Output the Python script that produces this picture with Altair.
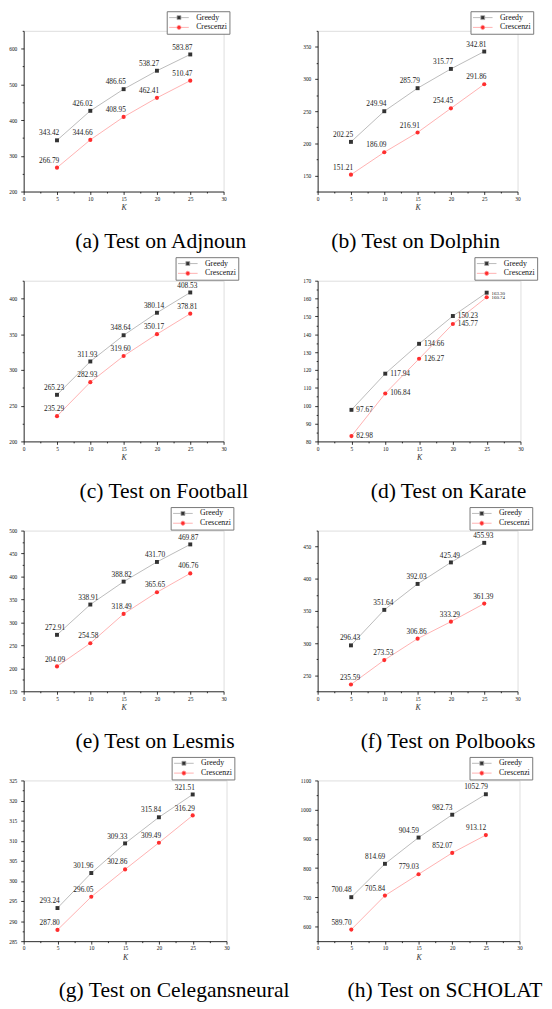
import altair as alt
import pandas as pd

FONT = "Liberation Serif"

K = [5, 10, 15, 20, 25]
series_names = ["Greedy", "Crescenzi"]
captions = ["(a) Test on Adjnoun", "(b) Test on Dolphin", "(c) Test on Football",
            "(d) Test on Karate", "(e) Test on Lesmis", "(f) Test on Polbooks",
            "(g) Test on Celegansneural", "(h) Test on SCHOLAT"]

greedy_adjnoun = [343.42, 426.02, 486.65, 538.27, 583.87]
cres_adjnoun = [266.79, 344.66, 408.95, 462.41, 510.47]
greedy_dolphin = [202.25, 249.94, 285.79, 315.77, 342.81]
cres_dolphin = [151.21, 186.09, 216.91, 254.45, 291.86]
greedy_football = [265.23, 311.93, 348.64, 380.14, 408.53]
cres_football = [235.29, 282.93, 319.60, 350.17, 378.81]
greedy_karate = [97.67, 117.94, 134.66, 150.23, 163.30]
cres_karate = [82.98, 106.84, 126.27, 145.77, 160.74]
greedy_lesmis = [272.91, 338.91, 388.82, 431.70, 469.87]
cres_lesmis = [204.09, 254.58, 318.49, 365.65, 406.76]
greedy_polbooks = [296.43, 351.64, 392.03, 425.49, 455.93]
cres_polbooks = [235.59, 273.53, 306.86, 333.29, 361.39]
greedy_celegans = [293.24, 301.96, 309.33, 315.84, 321.51]
cres_celegans = [287.80, 296.05, 302.86, 309.49, 316.29]
greedy_scholat = [700.48, 814.69, 904.59, 982.73, 1052.79]
cres_scholat = [589.70, 705.84, 779.03, 852.07, 913.12]

greedy_all = [greedy_adjnoun, greedy_dolphin, greedy_football, greedy_karate,
              greedy_lesmis, greedy_polbooks, greedy_celegans, greedy_scholat]
cres_all = [cres_adjnoun, cres_dolphin, cres_football, cres_karate,
            cres_lesmis, cres_polbooks, cres_celegans, cres_scholat]

y_domains = [[200, 650], [125, 375], [200, 425], [80, 170],
             [150, 500], [225, 475], [285, 325], [550, 1100]]
y_ticks = [[200, 300, 400, 500, 600],
           [150, 200, 250, 300, 350],
           [200, 250, 300, 350, 400],
           [80, 90, 100, 110, 120, 130, 140, 150, 160, 170],
           [150, 200, 250, 300, 350, 400, 450, 500],
           [250, 300, 350, 400, 450],
           [285, 290, 295, 300, 305, 310, 315, 320, 325],
           [600, 700, 800, 900, 1000, 1100]]
y_minor_step = [50, 25, 25, 5, 25, 25, 2.5, 50]
x_ticks = [0, 5, 10, 15, 20, 25, 30]
x_minor = [2.5, 7.5, 12.5, 17.5, 22.5, 27.5]

# layout / style per panel
widths = [204, 204, 204, 207, 204, 204, 207, 206]
legend_x = [146, 156, 155, 160, 150, 155, 151, 155]
legend_y = [-20, -20, -24, -24, -24, -24, -24, -24]
caption_dx = [38, -2, 41, 30, 32, 31, 50, 27]
label_dx = [-8, -8, -3, 5, -2, -1, -8, -10]

GREEDY_LINE = "#a9a9a9"
GREEDY_PT = "#333333"
CRES_LINE = "#ff9c9c"
CRES_PT = "#ff2e2e"

# legend symbols: short line with marker in the middle
sq_path = "M-2.5,0H-0.5M0.5,0H2.5M-0.5,-0.5H0.5V0.5H-0.5Z"
ci_path = ("M-2.5,0H-0.55M0.55,0H2.5"
           "M0.55,0L0.39,0.39L0,0.55L-0.39,0.39L-0.55,0L-0.39,-0.39L0,-0.55L0.39,-0.39Z")


def minor_values(lo, hi, step, majors):
    vals = []
    v = lo
    while v <= hi + 1e-9:
        if all(abs(v - m) > 1e-9 for m in majors):
            vals.append(round(v, 4))
        v += step
    return vals


def panel(i):
    df = pd.DataFrame({
        "k": K * 2,
        "value": greedy_all[i] + cres_all[i],
        "series": ["Greedy"] * 5 + ["Crescenzi"] * 5,
    })
    lo, hi = y_domains[i]
    xs = alt.Scale(domain=[0, 30], nice=False, zero=False)
    ys = alt.Scale(domain=[lo, hi], nice=False, zero=False)

    major_x = alt.Axis(orient="bottom", values=x_ticks, title="K", titleFont=FONT,
                       titleFontStyle="italic", titleFontWeight="normal", titleFontSize=8,
                       titleColor="#333", titlePadding=2, labelFont=FONT, labelFontSize=5.5,
                       labelColor="#111", labelPadding=2, labelFlush=False, tickSize=3,
                       tickColor="black", tickWidth=0.8, domainColor="black",
                       domainWidth=0.8, grid=False, format="d")
    minor_x = alt.Axis(orient="bottom", values=x_minor, labels=False, title=None,
                       tickSize=1.5, tickColor="black", tickWidth=0.8, domain=False,
                       grid=False)
    major_y = alt.Axis(orient="left", values=y_ticks[i], title=None, labelFont=FONT,
                       labelFontSize=5.5, labelColor="#111", labelPadding=4,
                       labelFlush=False, tickSize=3, tickColor="black", tickWidth=0.8,
                       domainColor="black", domainWidth=0.8, grid=False, minExtent=14,
                       format="d")
    minor_y = alt.Axis(orient="left", values=minor_values(lo, hi, y_minor_step[i], y_ticks[i]),
                       labels=False, title=None, tickSize=1.5, tickColor="black",
                       tickWidth=0.8, domain=False, grid=False)

    base = alt.Chart(df)
    g = base.transform_filter("datum.series == 'Greedy'")
    c = base.transform_filter("datum.series == 'Crescenzi'")

    leg = alt.Legend(orient="none", legendX=legend_x[i], legendY=legend_y[i], title=None,
                     labelFont=FONT, labelFontSize=8, labelColor="#111",
                     symbolSize=64, symbolStrokeWidth=0.8, symbolOffset=6,
                     labelOffset=13, rowPadding=1, padding=2,
                     strokeColor="#777777", fillColor="white")
    legend_layer = base.transform_filter("datum.k < 0").mark_point(
        filled=True, opacity=1, strokeWidth=0.8
    ).encode(
        x=alt.X("k:Q", scale=xs, axis=None),
        y=alt.Y("value:Q", scale=ys, axis=None),
        fill=alt.Fill("series:N", scale=alt.Scale(domain=series_names, range=[GREEDY_PT, CRES_PT]), legend=leg),
        stroke=alt.Stroke("series:N", scale=alt.Scale(domain=series_names, range=[GREEDY_LINE, CRES_LINE]), legend=leg),
        shape=alt.Shape("series:N", scale=alt.Scale(domain=series_names, range=[sq_path, ci_path]), legend=leg),
    )

    g_line = g.mark_line(color=GREEDY_LINE, strokeWidth=0.8).encode(
        x=alt.X("k:Q", scale=xs, axis=minor_x),
        y=alt.Y("value:Q", scale=ys, axis=minor_y),
    )
    c_line = c.mark_line(color=CRES_LINE, strokeWidth=0.8).encode(
        x=alt.X("k:Q", scale=xs, axis=major_x),
        y=alt.Y("value:Q", scale=ys, axis=major_y),
    )
    g_pts = g.mark_square(color=GREEDY_PT, size=16, opacity=1).encode(
        x=alt.X("k:Q", axis=None), y=alt.Y("value:Q", axis=None))
    c_pts = c.mark_circle(color=CRES_PT, size=18, opacity=1).encode(
        x=alt.X("k:Q", axis=None), y=alt.Y("value:Q", axis=None))

    if i == 3:
        labels = base.mark_text(font=FONT, align="left", baseline="middle",
                                dx=label_dx[i], dy=0, color="#222").encode(
            x=alt.X("k:Q", axis=None), y=alt.Y("value:Q", axis=None),
            text=alt.Text("value:Q", format=".2f"),
            size=alt.condition("datum.k == 25", alt.value(5), alt.value(7.5)),
        )
    else:
        labels = base.mark_text(font=FONT, fontSize=7.5, align="center", baseline="bottom",
                                dx=label_dx[i], dy=-3, color="#222").encode(
            x=alt.X("k:Q", axis=None), y=alt.Y("value:Q", axis=None),
            text=alt.Text("value:Q", format=".2f"),
        )

    return alt.layer(legend_layer, g_line, c_line, g_pts, c_pts, labels).resolve_axis(
        x="independent", y="independent"
    ).properties(
        width=widths[i], height=164,
        title=alt.TitleParams(text=captions[i], orient="bottom", anchor="middle",
                              frame="group", font=FONT, fontSize=22,
                              fontWeight="normal", color="black", dx=caption_dx[i],
                              offset=37, baseline="alphabetic"),
    )


chart = alt.concat(*[panel(i) for i in range(8)], columns=2,
                   spacing={"row": 91, "column": 93}, bounds="flush").resolve_scale(
    fill="independent", stroke="independent", shape="independent"
).properties(
    padding={"left": 0, "right": 0, "top": -8, "bottom": 0}
).configure_view(stroke=None).configure(background="white")

chart.save("out.html", embed_options={"renderer": "svg", "actions": False})
